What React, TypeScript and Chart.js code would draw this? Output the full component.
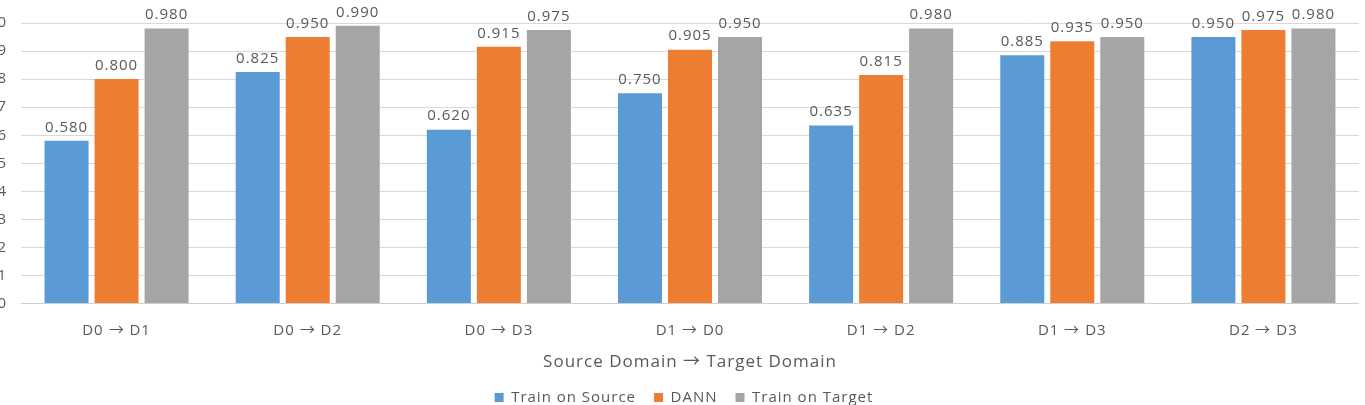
import React, { useEffect, useRef } from "react";
import { Chart, registerables } from "chart.js";

Chart.register(...registerables);

const categories = ["D0 → D1", "D0 → D2", "D0 → D3", "D1 → D0", "D1 → D2", "D1 → D3", "D2 → D3"];
const trainOnSource = [0.58, 0.825, 0.62, 0.75, 0.635, 0.885, 0.95];
const dann = [0.8, 0.95, 0.915, 0.905, 0.815, 0.935, 0.975];
const trainOnTarget = [0.98, 0.99, 0.975, 0.95, 0.98, 0.95, 0.98];
const seriesNames = ["Train on Source", "DANN", "Train on Target"];
const seriesColors = ["#5B9BD5", "#ED7D31", "#A5A5A5"];
const axisTitle = "Source Domain → Target Domain";

const FONT = "ArrowGlyph, 'Open Sans', 'Noto Sans', sans-serif";
const TEXT = "#595959";
const LEFT_SHIFT = 13;
const SPACING = "1px";
const LEGEND_SHIFT = 11;

const spacingPlugin = {
  id: "spacing",
  beforeUpdate(chart: any) {
    chart.ctx.letterSpacing = SPACING;
  },
  beforeLayout(chart: any) {
    chart.ctx.letterSpacing = SPACING;
  },
  afterLayout(chart: any) {
    if (chart.legend) {
      chart.legend.left += LEGEND_SHIFT;
      chart.legend.right += LEGEND_SHIFT;
    }
  },
  beforeDraw(chart: any) {
    chart.ctx.letterSpacing = SPACING;
  },
};

const dataLabels = {
  id: "dataLabels",
  afterDatasetsDraw(chart: any) {
    const ctx = chart.ctx;
    ctx.save();
    ctx.letterSpacing = SPACING;
    ctx.font = `15px ${FONT}`;
    ctx.fillStyle = TEXT;
    ctx.textAlign = "center";
    ctx.textBaseline = "bottom";
    chart.data.datasets.forEach((ds: any, i: number) => {
      const meta = chart.getDatasetMeta(i);
      meta.data.forEach((el: any, j: number) => {
        ctx.fillText(Number(ds.data[j]).toFixed(3), el.x, el.y - 6);
      });
    });
    ctx.restore();
  },
};

export default function App() {
  const ref = useRef<HTMLCanvasElement>(null);
  useEffect(() => {
    let chart: any = null;
    let cancelled = false;
    const style = document.createElement("style");
    style.textContent =
      "@font-face { font-family: 'ArrowGlyph'; src: local('Noto Sans CJK JP'), local('NotoSansCJKjp-Regular'), local('DejaVu Sans'); unicode-range: U+2192; }";
    document.head.appendChild(style);
    const build = () => {
      if (cancelled || !ref.current) return;
      chart = new Chart(ref.current, {
        type: "bar",
        data: {
          labels: categories,
          datasets: [trainOnSource, dann, trainOnTarget].map((d, i) => ({
            label: seriesNames[i],
            data: d,
            backgroundColor: seriesColors[i],
            borderWidth: 0,
            categoryPercentage: 0.785,
            barPercentage: 0.88,
          })),
        },
        options: {
          animation: false,
          responsive: false,
          maintainAspectRatio: false,
          layout: { padding: { top: 20, right: 6, bottom: -10, left: 0 } },
          plugins: {
            tooltip: { enabled: false },
            legend: {
              position: "bottom",
              labels: {
                boxWidth: 9,
                boxHeight: 9,
                padding: 18,
                color: TEXT,
                font: { family: FONT, size: 15 },
              },
            },
          },
          scales: {
            x: {
              grid: { display: false },
              border: { display: false },
              ticks: { color: TEXT, font: { family: FONT, size: 15 }, padding: 10 },
              title: {
                display: true,
                text: axisTitle,
                color: TEXT,
                font: { family: FONT, size: 17 },
                padding: { top: 2, bottom: 0 },
              },
            },
            y: {
              min: 0,
              max: 1,
              ticks: {
                stepSize: 0.1,
                color: TEXT,
                font: { family: FONT, size: 15 },
                padding: 14,
                callback: (v: any) => Number(v).toFixed(1),
              },
              grid: {
                color: (c: any) => (c.tick && c.tick.value === 0 ? "#CFCFCF" : "#D9D9D9"),
                drawTicks: false,
              },
              border: { display: false },
              afterFit: (scale: any) => {
                scale.width = 34;
              },
            },
          },
        },
        plugins: [spacingPlugin, dataLabels],
      });
    };
    const fontsApi: any = (document as any).fonts;
    if (fontsApi && fontsApi.load) {
      Promise.all([
        fontsApi.load("15px ArrowGlyph", "→"),
        fontsApi.load("15px 'Open Sans'", "Train"),
      ])
        .catch(() => null)
        .then(build);
    } else {
      build();
    }
    return () => {
      cancelled = true;
      if (chart) chart.destroy();
      style.remove();
    };
  }, []);
  return (
    <div style={{ position: "fixed", left: -LEFT_SHIFT, top: 0, width: 1365 + LEFT_SHIFT, height: 405, background: "#fff" }}>
      <canvas ref={ref} width={1365 + LEFT_SHIFT} height={405} />
    </div>
  );
}
